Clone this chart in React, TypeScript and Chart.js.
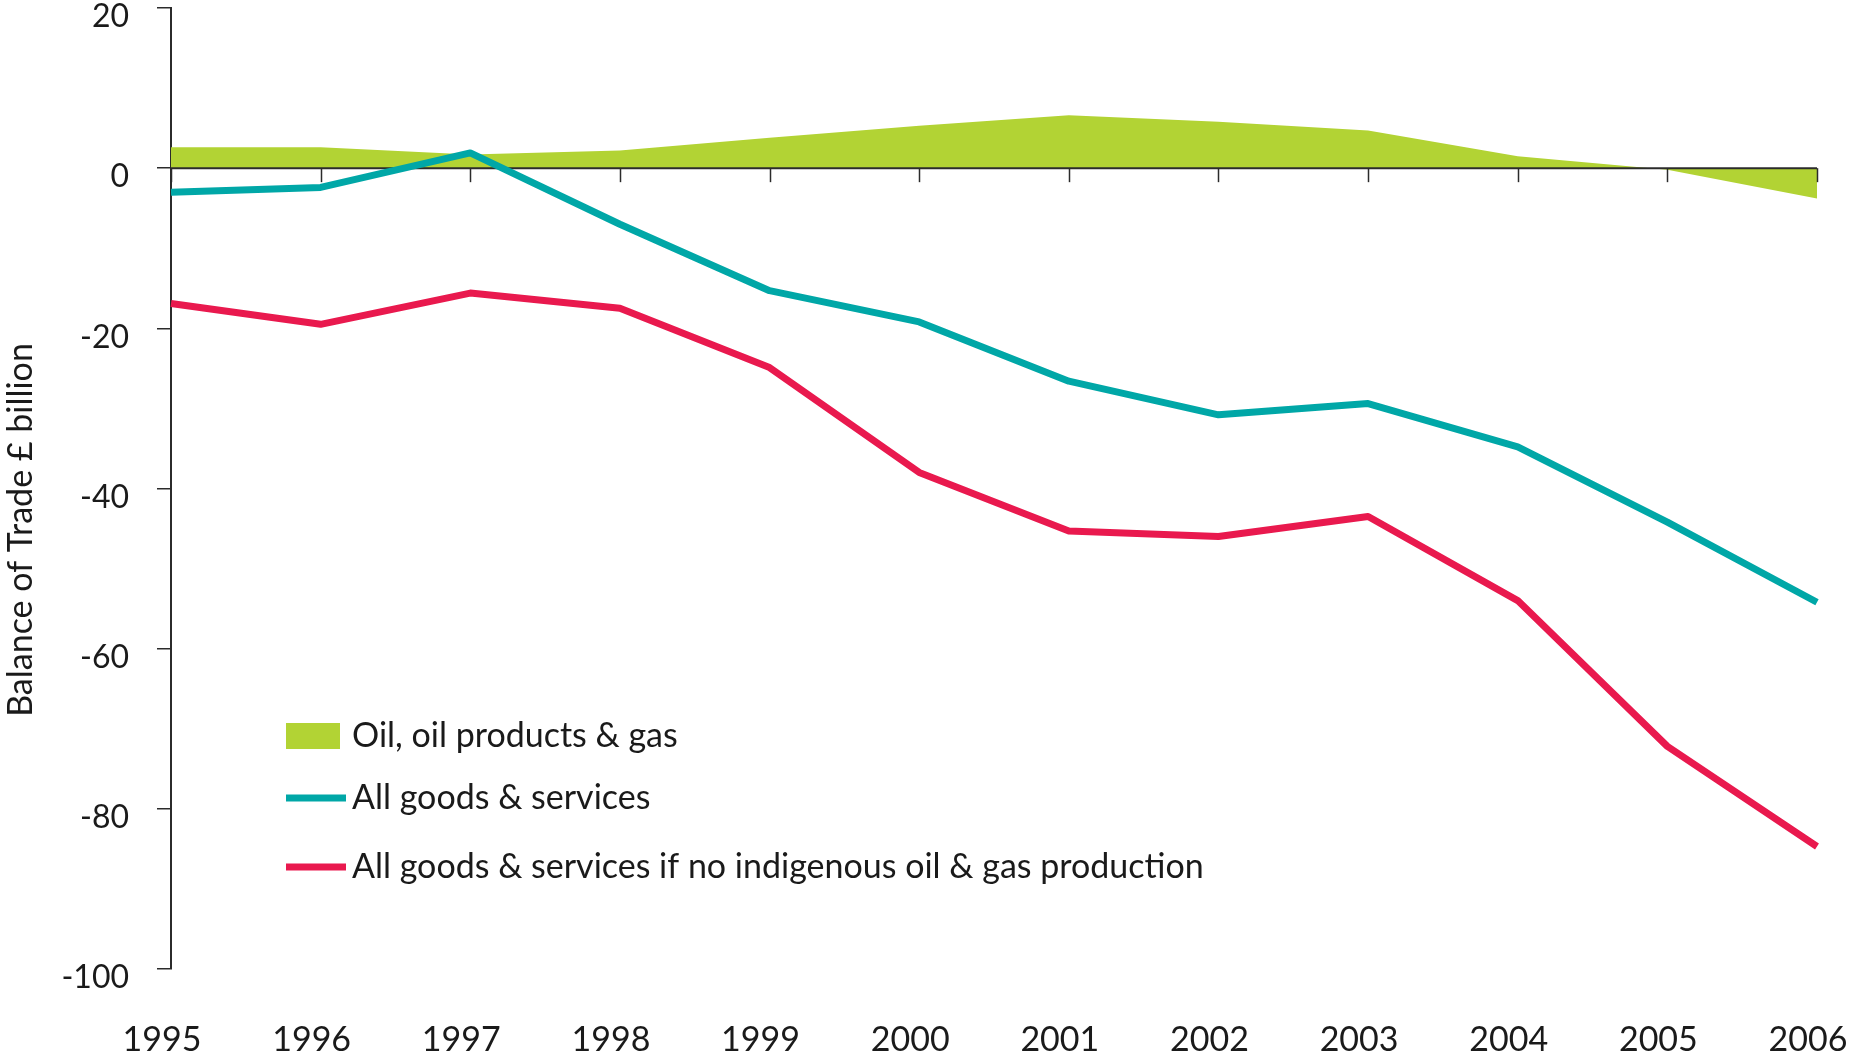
import React, { useEffect, useRef } from 'react';
import { Chart, registerables } from 'chart.js';

Chart.register(...registerables);

// ---- Data ----
const years = ['1995', '1996', '1997', '1998', '1999', '2000', '2001', '2002', '2003', '2004', '2005', '2006'];
const oilGas = [2.6, 2.6, 1.7, 2.2, 3.8, 5.3, 6.6, 5.8, 4.7, 1.5, -0.2, -3.8];
const allGoods = [-3.0, -2.4, 1.9, -7.0, -15.3, -19.2, -26.6, -30.8, -29.4, -34.8, -44.2, -54.2];
const noIndigenous = [-16.9, -19.5, -15.6, -17.5, -24.9, -38.0, -45.3, -46.0, -43.5, -54.0, -72.2, -84.7];
const seriesNames = [
  'Oil, oil products & gas',
  'All goods & services',
  'All goods & services if no indigenous oil & gas production',
];
const yMin = -100;
const yMax = 20;
const yStep = 20;
const yTitle = 'Balance of Trade £ billion';

const GREEN = 'rgb(178,211,52)';
const TEAL = 'rgb(0,167,167)';
const RED = 'rgb(233,25,78)';
const AXIS = '#2b2b2b';
const TEXT = '#1a1a1a';
const FONT = 'Lato, "Open Sans", sans-serif';

const zeroAxisPlugin = {
  id: 'zeroAxis',
  afterDatasetDraw(chart: any, args: any) {
    if (args.index !== 0) return;
    const { ctx, chartArea, scales } = chart;
    const y0 = scales.y.getPixelForValue(0);
    ctx.save();
    ctx.strokeStyle = AXIS;
    ctx.lineWidth = 2;
    ctx.beginPath();
    ctx.moveTo(chartArea.left, y0);
    ctx.lineTo(chartArea.right, y0);
    ctx.stroke();
    ctx.lineWidth = 1.5;
    years.forEach((_, i) => {
      const x = Math.round(scales.x.getPixelForValue(i)) + 0.5;
      ctx.beginPath();
      ctx.moveTo(x, y0);
      ctx.lineTo(x, y0 + 14);
      ctx.stroke();
    });
    ctx.restore();
  },
};

const titleLegendPlugin = {
  id: 'titleLegend',
  afterDraw(chart: any) {
    const { ctx } = chart;
    ctx.save();
    // Y axis title
    ctx.fillStyle = TEXT;
    ctx.font = `34px ${FONT}`;
    ctx.textAlign = 'center';
    ctx.textBaseline = 'middle';
    ctx.translate(21, 530);
    ctx.rotate(-Math.PI / 2);
    ctx.fillText(yTitle, 0, 0);
    ctx.restore();

    // Legend
    ctx.save();
    const rows = [736, 798, 867];
    chart.data.datasets.forEach((ds: any, i: number) => {
      const y = rows[i];
      if (ds.fill) {
        ctx.fillStyle = ds.backgroundColor;
        ctx.fillRect(286, y - 13, 54, 26);
      } else {
        ctx.strokeStyle = ds.borderColor;
        ctx.lineWidth = 7;
        ctx.beginPath();
        ctx.moveTo(286, y);
        ctx.lineTo(346, y);
        ctx.stroke();
      }
      ctx.fillStyle = TEXT;
      ctx.font = `34px ${FONT}`;
      ctx.textAlign = 'left';
      ctx.textBaseline = 'middle';
      ctx.fillText(ds.label, 352, y);
    });
    ctx.restore();
  },
};

export default function App() {
  const canvasRef = useRef<HTMLCanvasElement | null>(null);

  useEffect(() => {
    const canvas = canvasRef.current;
    if (!canvas) return;
    const chart = new Chart(canvas, {
      type: 'line',
      data: {
        labels: years,
        datasets: [
          {
            label: seriesNames[0],
            data: oilGas,
            fill: 'origin',
            backgroundColor: GREEN,
            borderColor: 'rgba(0,0,0,0)',
            borderWidth: 0,
            pointRadius: 0,
            tension: 0,
            order: 3,
          },
          {
            label: seriesNames[1],
            data: allGoods,
            fill: false,
            borderColor: TEAL,
            backgroundColor: TEAL,
            borderWidth: 7,
            pointRadius: 0,
            tension: 0,
            borderJoinStyle: 'round',
            order: 2,
          },
          {
            label: seriesNames[2],
            data: noIndigenous,
            fill: false,
            borderColor: RED,
            backgroundColor: RED,
            borderWidth: 7,
            pointRadius: 0,
            tension: 0,
            borderJoinStyle: 'round',
            order: 1,
          },
        ],
      },
      options: {
        responsive: false,
        animation: false,
        devicePixelRatio: 1,
        events: [],
        layout: { padding: { top: 8, right: 32, left: 0, bottom: 0 } },
        plugins: {
          legend: { display: false },
          tooltip: { enabled: false },
          title: { display: false },
        },
        scales: {
          x: {
            type: 'category',
            position: 'bottom',
            offset: false,
            grid: { display: false },
            border: { display: false },
            ticks: {
              color: TEXT,
              font: { family: FONT, size: 34 },
              padding: 43,
              labelOffset: -9,
              maxRotation: 0,
              autoSkip: false,
            },
            afterFit: (s: any) => {
              s.height = 84;
              s.paddingLeft = 0;
              s.paddingRight = 0;
            },
          },
          y: {
            type: 'linear',
            min: yMin,
            max: yMax,
            grid: {
              display: true,
              drawOnChartArea: false,
              drawTicks: true,
              tickLength: 14,
              tickColor: AXIS,
              lineWidth: 1.5,
            },
            border: { display: true, color: AXIS, width: 2 },
            ticks: {
              stepSize: yStep,
              color: TEXT,
              font: { family: FONT, size: 32 },
              padding: 28,
              labelOffset: 9,
            },
            afterFit: (s: any) => {
              s.width = 171;
              s.paddingTop = 0;
              s.paddingBottom = 0;
            },
          },
        },
      },
      plugins: [zeroAxisPlugin, titleLegendPlugin],
    } as any);
    return () => chart.destroy();
  }, []);

  return (
    <div style={{ position: 'fixed', left: 0, top: 0, width: 1849, height: 1053, background: '#fff' }}>
      <canvas ref={canvasRef} width={1849} height={1053} style={{ width: 1849, height: 1053, display: 'block' }} />
    </div>
  );
}
